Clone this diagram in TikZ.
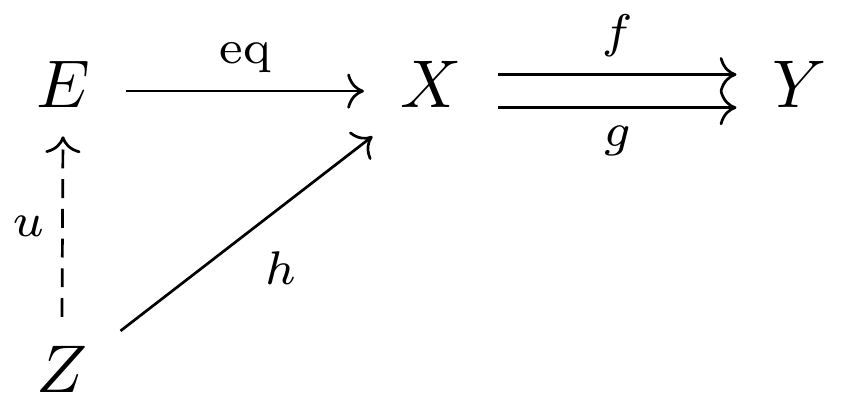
\documentclass[tikz,border=0pt]{standalone}
\usetikzlibrary{arrows.meta}
\begin{document}
\begin{tikzpicture}[x=0.148148pt,y=-0.148148pt,
  obj/.style={anchor=base, text height=6.83pt, text depth=1.83pt, inner xsep=5.2pt, inner ysep=2.17pt},
  arr/.style={-{Computer Modern Rightarrow}, line width=0.4pt},
  lab/.style={font=\scriptsize, inner sep=2.5pt},
  dashseven/.style={dash pattern=on 2.8pt off 1.6pt}]
\useasboundingbox (0,0) rectangle (857,418);
\node[obj] (E) at (63,108) {$E$};
\node[obj] (X) at (431,108) {$X$};
\node[obj] (Y) at (800,108) {$Y$};
\node[obj] (Z) at (62,393) {$Z$};
\draw[arr] (E) -- node[lab,above]{$\mathrm{eq}$} (X);
\draw[arr] ([yshift=2.45pt]X.east) -- node[lab,above]{$f$} ([yshift=2.45pt]Y.west);
\draw[arr] ([yshift=-2.45pt]X.east) -- node[lab,below]{$g$} ([yshift=-2.45pt]Y.west);
\draw[arr,dashseven] ([yshift=2.07pt]Z.north) -- node[lab,left]{$u$} (E.south);
\draw[arr] (Z) -- node[lab,below right]{$h$} (X);
\end{tikzpicture}
\end{document}
